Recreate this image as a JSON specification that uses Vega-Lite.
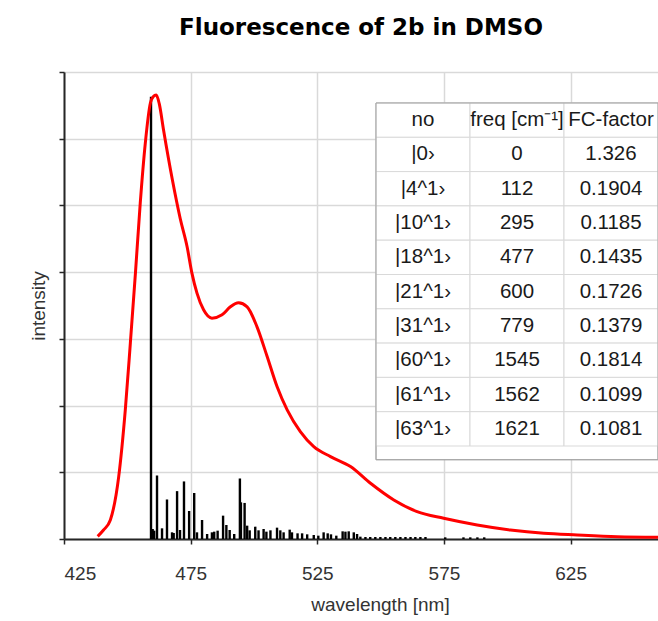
{
  "$schema": "https://vega.github.io/schema/vega-lite/v6.json",
  "width": 594,
  "height": 467,
  "autosize": {"type": "none"},
  "padding": {"left": 64, "top": 72, "right": 0, "bottom": 82},
  "background": "white",
  "title": {"text": "Fluorescence of 2b in DMSO", "font": "DejaVu Sans", "fontSize": 23, "fontWeight": "bold", "color": "#000000", "anchor": "middle", "frame": "group", "offset": 31},
  "config": {
    "view": {"stroke": null},
    "axis": {
      "domainColor": "#262626", "domainWidth": 2,
      "tickColor": "#262626", "tickWidth": 1.5, "tickSize": 5,
      "gridColor": "#d9d9d9", "gridWidth": 1.5,
      "labelFont": "Liberation Sans", "labelFontSize": 19, "labelColor": "#333333",
      "titleFont": "Liberation Sans", "titleFontSize": 19, "titleFontWeight": "normal", "titleColor": "#333333"
    }
  },
  "datasets": {
    "curve": [
      {"wl": 438.3, "I": 0.008}, {"wl": 440.6, "I": 0.027}, {"wl": 443.3, "I": 0.057}, {"wl": 446.6, "I": 0.187},
      {"wl": 449.2, "I": 0.387}, {"wl": 451.2, "I": 0.588}, {"wl": 453.2, "I": 0.797}, {"wl": 455.1, "I": 1.007},
      {"wl": 457.1, "I": 1.187}, {"wl": 459.1, "I": 1.307}, {"wl": 460.2, "I": 1.326}, {"wl": 461.4, "I": 1.331},
      {"wl": 462.6, "I": 1.305}, {"wl": 464.3, "I": 1.226}, {"wl": 467.8, "I": 1.076}, {"wl": 470.9, "I": 0.96},
      {"wl": 473.6, "I": 0.876}, {"wl": 475.5, "I": 0.797}, {"wl": 477.5, "I": 0.737}, {"wl": 480.1, "I": 0.687},
      {"wl": 483.4, "I": 0.662}, {"wl": 487.4, "I": 0.672}, {"wl": 490.7, "I": 0.696}, {"wl": 493.9, "I": 0.708},
      {"wl": 497.3, "I": 0.696}, {"wl": 501.2, "I": 0.636}, {"wl": 505.2, "I": 0.547}, {"wl": 509.1, "I": 0.457},
      {"wl": 513.1, "I": 0.387}, {"wl": 518.3, "I": 0.322}, {"wl": 523.6, "I": 0.277}, {"wl": 530.2, "I": 0.247},
      {"wl": 538.1, "I": 0.217}, {"wl": 546.0, "I": 0.167}, {"wl": 555.2, "I": 0.117}, {"wl": 564.4, "I": 0.082},
      {"wl": 574.9, "I": 0.062}, {"wl": 588.1, "I": 0.042}, {"wl": 601.2, "I": 0.027}, {"wl": 614.4, "I": 0.017},
      {"wl": 627.6, "I": 0.012}, {"wl": 643.4, "I": 0.007}, {"wl": 659.5, "I": 0.005}
    ],
    "sticks": [
      {"wl": 459.35, "fc": 1.326}, {"wl": 460.0, "fc": 0.03}, {"wl": 460.6, "fc": 0.025}, {"wl": 461.72, "fc": 0.1904},
      {"wl": 463.7, "fc": 0.032}, {"wl": 465.66, "fc": 0.1185}, {"wl": 467.65, "fc": 0.02}, {"wl": 468.3, "fc": 0.018},
      {"wl": 469.64, "fc": 0.1435}, {"wl": 470.8, "fc": 0.027}, {"wl": 472.37, "fc": 0.1726}, {"wl": 474.4, "fc": 0.084},
      {"wl": 476.4, "fc": 0.1379}, {"wl": 477.5, "fc": 0.02}, {"wl": 479.5, "fc": 0.057}, {"wl": 481.5, "fc": 0.015},
      {"wl": 483.4, "fc": 0.02}, {"wl": 484.3, "fc": 0.022}, {"wl": 485.65, "fc": 0.025}, {"wl": 487.8, "fc": 0.07},
      {"wl": 489.1, "fc": 0.042}, {"wl": 490.4, "fc": 0.027}, {"wl": 492.2, "fc": 0.015}, {"wl": 494.44, "fc": 0.1814},
      {"wl": 494.85, "fc": 0.1099}, {"wl": 496.3, "fc": 0.1081}, {"wl": 497.3, "fc": 0.04}, {"wl": 498.3, "fc": 0.026},
      {"wl": 500.5, "fc": 0.037}, {"wl": 501.8, "fc": 0.026}, {"wl": 503.8, "fc": 0.03}, {"wl": 504.9, "fc": 0.022},
      {"wl": 506.5, "fc": 0.026}, {"wl": 509.1, "fc": 0.034}, {"wl": 510.4, "fc": 0.026}, {"wl": 511.7, "fc": 0.02},
      {"wl": 514.1, "fc": 0.028}, {"wl": 515.0, "fc": 0.02}, {"wl": 517.2, "fc": 0.017}, {"wl": 519.0, "fc": 0.017},
      {"wl": 521.0, "fc": 0.014}, {"wl": 523.6, "fc": 0.012}, {"wl": 525.4, "fc": 0.01}, {"wl": 527.5, "fc": 0.02},
      {"wl": 529.1, "fc": 0.017}, {"wl": 530.4, "fc": 0.014}, {"wl": 532.5, "fc": 0.01}, {"wl": 535.0, "fc": 0.023},
      {"wl": 536.1, "fc": 0.022}, {"wl": 537.4, "fc": 0.023}, {"wl": 539.4, "fc": 0.02}, {"wl": 540.7, "fc": 0.015},
      {"wl": 542.0, "fc": 0.007}, {"wl": 544.0, "fc": 0.006}, {"wl": 545.9, "fc": 0.006}, {"wl": 547.9, "fc": 0.006},
      {"wl": 549.9, "fc": 0.006}, {"wl": 551.9, "fc": 0.006}, {"wl": 553.8, "fc": 0.006}, {"wl": 555.8, "fc": 0.006},
      {"wl": 557.8, "fc": 0.006}, {"wl": 559.8, "fc": 0.006}, {"wl": 561.8, "fc": 0.006}, {"wl": 563.7, "fc": 0.006},
      {"wl": 565.7, "fc": 0.006}, {"wl": 567.7, "fc": 0.006}, {"wl": 575.5, "fc": 0.005}, {"wl": 582.7, "fc": 0.005},
      {"wl": 585.4, "fc": 0.005}, {"wl": 588.2, "fc": 0.005}, {"wl": 590.9, "fc": 0.005}
    ],
    "cells": [
      {"r": "r0", "c": "c1", "t": "no"}, {"r": "r0", "c": "c2", "t": "freq [cm⁻¹]"}, {"r": "r0", "c": "c3", "t": "FC-factor"},
      {"r": "r1", "c": "c1", "t": "|0›"}, {"r": "r1", "c": "c2", "t": "0"}, {"r": "r1", "c": "c3", "t": "1.326"},
      {"r": "r2", "c": "c1", "t": "|4^1›"}, {"r": "r2", "c": "c2", "t": "112"}, {"r": "r2", "c": "c3", "t": "0.1904"},
      {"r": "r3", "c": "c1", "t": "|10^1›"}, {"r": "r3", "c": "c2", "t": "295"}, {"r": "r3", "c": "c3", "t": "0.1185"},
      {"r": "r4", "c": "c1", "t": "|18^1›"}, {"r": "r4", "c": "c2", "t": "477"}, {"r": "r4", "c": "c3", "t": "0.1435"},
      {"r": "r5", "c": "c1", "t": "|21^1›"}, {"r": "r5", "c": "c2", "t": "600"}, {"r": "r5", "c": "c3", "t": "0.1726"},
      {"r": "r6", "c": "c1", "t": "|31^1›"}, {"r": "r6", "c": "c2", "t": "779"}, {"r": "r6", "c": "c3", "t": "0.1379"},
      {"r": "r7", "c": "c1", "t": "|60^1›"}, {"r": "r7", "c": "c2", "t": "1545"}, {"r": "r7", "c": "c3", "t": "0.1814"},
      {"r": "r8", "c": "c1", "t": "|61^1›"}, {"r": "r8", "c": "c2", "t": "1562"}, {"r": "r8", "c": "c3", "t": "0.1099"},
      {"r": "r9", "c": "c1", "t": "|63^1›"}, {"r": "r9", "c": "c2", "t": "1621"}, {"r": "r9", "c": "c3", "t": "0.1081"}
    ],
    "box": [{"r": "r0", "c": "c1", "r2": "r9", "c2": "c3"}]
  },
  "layer": [
    {
      "layer": [
        {
          "data": {"name": "sticks"},
          "mark": {"type": "rule", "color": "#000000", "strokeWidth": 2.4},
          "encoding": {
            "x": {"field": "wl", "type": "quantitative", "scale": {"domain": [425, 659.5], "nice": false, "zero": false},
                  "axis": {"values": [425, 475, 525, 575, 625], "title": "wavelength  [nm]", "labelPadding": 20, "titlePadding": 12, "titleX": 316}},
            "y": {"field": "fc", "type": "quantitative", "scale": {"domain": [0, 1.4], "nice": false},
                  "axis": {"values": [0, 0.2, 0.4, 0.6, 0.8, 1.0, 1.2, 1.4], "labels": false, "title": "intensity", "titlePadding": 10}},
            "y2": {"datum": 0}
          }
        },
        {
          "data": {"name": "curve"},
          "mark": {"type": "line", "color": "#ff0000", "strokeWidth": 3, "interpolate": "monotone"},
          "encoding": {
            "x": {"field": "wl", "type": "quantitative"},
            "y": {"field": "I", "type": "quantitative"}
          }
        }
      ]
    },
    {
      "encoding": {
        "x": {"field": "c", "type": "nominal", "axis": null,
              "scale": {"domain": ["c1", "c2", "c3"], "paddingInner": 0, "paddingOuter": 0, "range": [312, 594]}},
        "y": {"field": "r", "type": "nominal", "axis": null,
              "scale": {"domain": ["r0", "r1", "r2", "r3", "r4", "r5", "r6", "r7", "r8", "r9"], "paddingInner": 0, "paddingOuter": 0, "range": [31, 374]}}
      },
      "layer": [
        {
          "data": {"name": "box"},
          "mark": {"type": "rect", "fill": "#ffffff", "stroke": "#a6a6a6", "strokeWidth": 1},
          "encoding": {
            "x": {"field": "c", "type": "nominal", "bandPosition": 0},
            "x2": {"field": "c2", "bandPosition": 1},
            "y": {"field": "r", "type": "nominal", "bandPosition": 0},
            "y2": {"field": "r2", "bandPosition": 1.4}
          }
        },
        {
          "data": {"name": "cells"},
          "mark": {"type": "rect", "fill": "#ffffff", "stroke": "#d9d9d9", "strokeWidth": 1},
          "encoding": {}
        },
        {
          "data": {"name": "box"},
          "mark": {"type": "rect", "fill": null, "stroke": "#a6a6a6", "strokeWidth": 1},
          "encoding": {
            "x": {"field": "c", "type": "nominal", "bandPosition": 0},
            "x2": {"field": "c2", "bandPosition": 1},
            "y": {"field": "r", "type": "nominal", "bandPosition": 0},
            "y2": {"field": "r2", "bandPosition": 1.4}
          }
        },
        {
          "data": {"name": "cells"},
          "mark": {"type": "text", "font": "Liberation Sans", "fontSize": 20.5, "color": "#1a1a1a", "align": "center", "baseline": "middle"},
          "encoding": {"text": {"field": "t", "type": "nominal"}}
        }
      ]
    }
  ],
  "resolve": {"scale": {"x": "independent", "y": "independent"}, "axis": {"x": "independent", "y": "independent"}}
}
